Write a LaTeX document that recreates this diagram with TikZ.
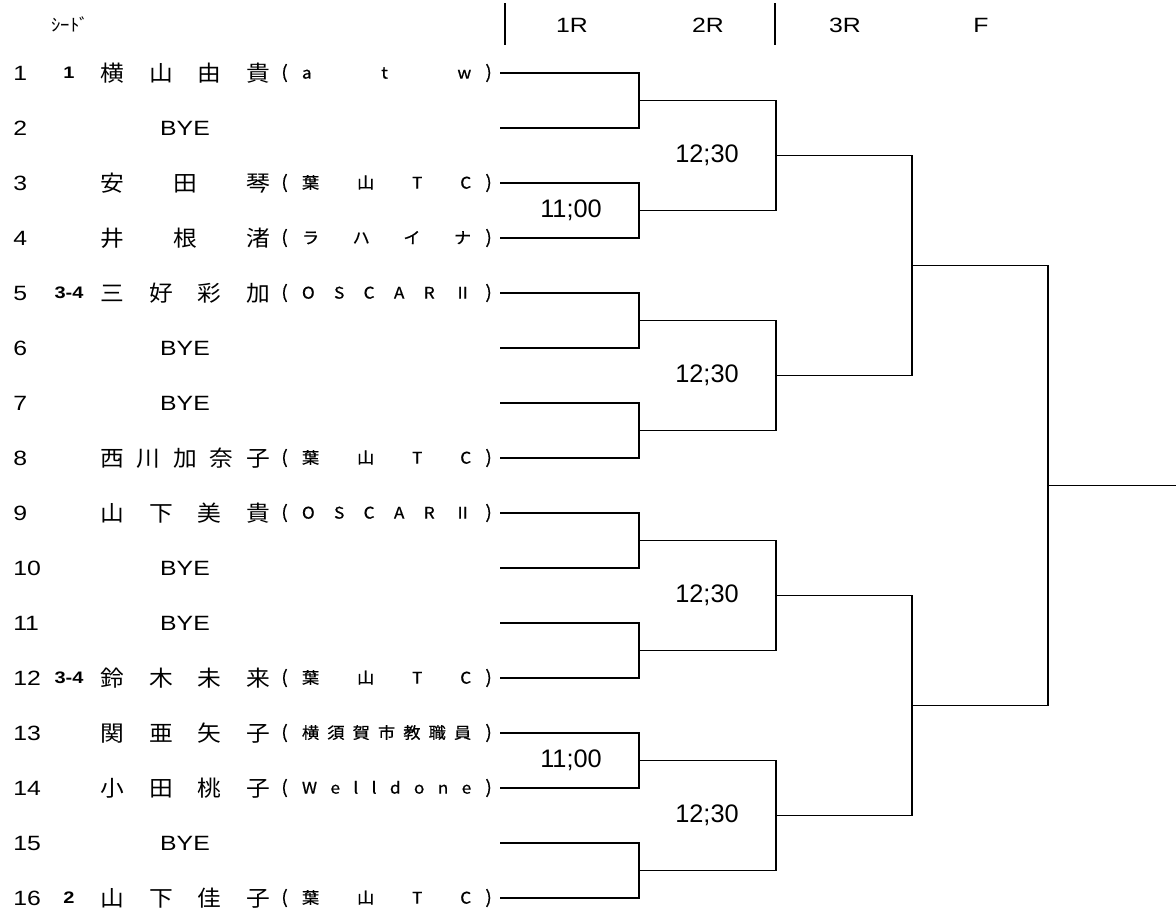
\documentclass[tikz,border=0pt]{standalone}
\usepackage{fontspec}
\setmainfont{Liberation Sans}[FakeStretch=1.2]
\newfontfamily\jp{Noto Sans CJK JP}[FakeStretch=1.08]
\newfontfamily\jpc{Noto Sans CJK JP}[FakeStretch=1.08, FakeBold=0.6]
\newfontfamily\tmfont{Liberation Sans}
\usetikzlibrary{calc}
\newcommand\spread[2]{\hbox to #1{\spaceskip=0pt plus 1fil\relax #2}}
\newcommand\clubbox[1]{\hbox to 158pt{{\fontsize{13.5}{13.5}\selectfont(}\hskip 0pt plus 1fil\spread{127pt}{#1}\hskip 0pt plus 1fil{\fontsize{13.5}{13.5}\selectfont)}}}
\begin{document}
\begin{tikzpicture}[x=0.75pt, y=-0.75pt, every node/.style={inner sep=0pt},
  bline/.style={line width=0.8pt},
  head/.style={font=\fontsize{15.5}{15.5}\selectfont},
  num/.style={anchor=west, font=\fontsize{15.5}{15.5}\selectfont},
  seed/.style={font=\bfseries\fontsize{12.5}{12.5}\selectfont},
  plname/.style={anchor=west, font=\jp\fontsize{16.5}{16.5}\selectfont},
  club/.style={anchor=west, font=\jpc\fontsize{12}{12}\selectfont},
  bye/.style={font=\fontsize{15.5}{15.5}\selectfont},
  tm/.style={font=\tmfont\fontsize{19}{19}\selectfont}]

\useasboundingbox (0,0) rectangle (1176,910);

% header
\node[font=\jp\fontsize{13}{13}\selectfont] (sdhead) at (70,24) {ｼｰﾄﾞ};
\draw[bline] (505,3) -- (505,45);
\draw[bline] (775,3) -- (775,45);
\foreach \r/\xr in {1R/572, 2R/708, 3R/845, F/981}
  \node[head] (h\r) at (\xr,25) {\r};

% draw entries
\foreach \i in {1,...,16}
  \coordinate (p0-\i) at (500,{73+55*(\i-1)});
\foreach \i in {1,...,16}
  \node[num] (no\i) at (13,0 |- p0-\i) {\i};
\foreach \i/\s in {1/1, 5/3-4, 12/3-4, 16/2}
  \node[seed] (sd\i) at (69,0 |- p0-\i) {\s};
\foreach \i/\nm/\cl in {1/横 山 由 貴/a t w, 3/安 田 琴/葉 山 T C,
    4/井 根 渚/ラ ハ イ ナ, 5/三 好 彩 加/O S C A R Ⅱ,
    8/西 川 加 奈 子/葉 山 T C, 9/山 下 美 貴/O S C A R Ⅱ,
    12/鈴 木 未 来/葉 山 T C, 13/関 亜 矢 子/横 須 賀 市 教 職 員,
    14/小 田 桃 子/W e l l d o n e, 16/山 下 佳 子/葉 山 T C} {
  \node[plname] (nm\i) at (100,0 |- p0-\i) {\spread{127.5pt}{\nm}};
  \node[club] (cl\i) at (281,0 |- p0-\i) {\clubbox{\cl}};
}
\foreach \i in {2,6,7,10,11,15}
  \node[bye] (bye\i) at (185,0 |- p0-\i) {BYE};

% draw brackets
\foreach \lv/\xv/\n in {1/639/8, 2/776/4, 3/912/2, 4/1048/1} {
  \pgfmathtruncatemacro\pv{\lv-1}
  \foreach \k in {1,...,\n} {
    \pgfmathtruncatemacro\up{2*\k-1}
    \pgfmathtruncatemacro\dn{2*\k}
    \coordinate (m) at ($(p\pv-\up)!.5!(p\pv-\dn)$);
    \coordinate (p\lv-\k) at (\xv,0 |- m);
    \draw[bline] (p\pv-\up) -| (p\lv-\k) |- (p\pv-\dn);
  }
}
\coordinate (fin) at (1176,0 |- p4-1);
\draw[bline] (p4-1) -- (fin);

% times
\node[tm] (tm1) at (571,0 |- p1-2) {11;00};
\node[tm] (tm2) at (571,0 |- p1-7) {11;00};
\foreach \k in {1,...,4}
  \node[tm] (tn\k) at (707,0 |- p2-\k) {12;30};

\end{tikzpicture}
\end{document}
